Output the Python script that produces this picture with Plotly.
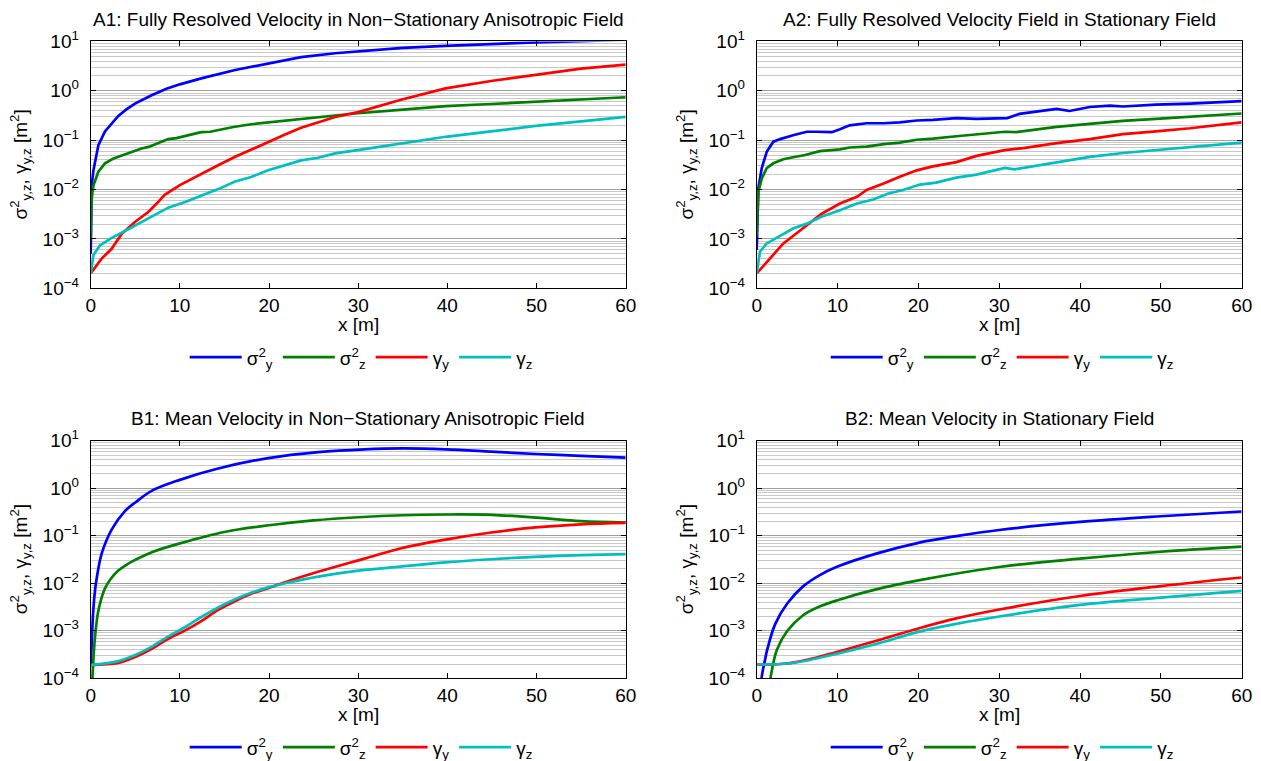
import plotly.graph_objects as go
from plotly.subplots import make_subplots

# ---------------- A1: fully resolved velocity, non-stationary anisotropic field
a1_sy_x = [0, 0.05, 0.11, 0.3, 0.49, 0.86, 1.6, 2.35, 3.1, 4.0, 4.96, 6.83, 8.5, 10, 12.4, 16.2, 19.9, 23.6, 27.4, 30, 35, 39.8, 45, 49.9, 55.9, 60]
a1_sy = [5.0e-4, 3.0e-3, 1.2e-2, 2.4e-2, 3.6e-2, 7.9e-2, 0.15, 0.22, 0.31, 0.42, 0.55, 0.81, 1.1, 1.35, 1.78, 2.63, 3.55, 4.8, 5.75, 6.3, 7.4, 8.1, 8.9, 9.6, 10.2, 10.8]
a1_sz_x = [0, 0.08, 0.3, 0.86, 1.6, 2.5, 3.1, 4.2, 5.0, 5.7, 6.5, 7.2, 8.0, 8.7, 9.6, 10.6, 11.5, 12.4, 13.4, 14.3, 16, 18, 20, 21.8, 23.5, 25.5, 29.6, 34.7, 39.8, 44.9, 49.9, 55, 60]
a1_sz = [1.0e-3, 6.0e-3, 1.2e-2, 2.3e-2, 3.4e-2, 4.2e-2, 4.6e-2, 5.4e-2, 6.0e-2, 6.8e-2, 7.3e-2, 8.1e-2, 9.2e-2, 0.105, 0.11, 0.12, 0.13, 0.145, 0.148, 0.16, 0.185, 0.21, 0.228, 0.245, 0.265, 0.295, 0.347, 0.41, 0.49, 0.54, 0.60, 0.67, 0.74]
a1_gy_x = [0, 1.23, 2.35, 3.47, 4.96, 6.46, 7.4, 8.3, 10, 12.4, 14.3, 16.2, 18, 19.9, 21.8, 23.6, 25.5, 27.4, 30, 34.7, 39.8, 44.9, 49.9, 55, 60]
a1_gy = [2.0e-4, 4.0e-4, 6.3e-4, 1.26e-3, 2.2e-3, 3.5e-3, 5.2e-3, 7.8e-3, 1.23e-2, 2.1e-2, 3.1e-2, 4.6e-2, 6.5e-2, 9.3e-2, 0.13, 0.178, 0.23, 0.295, 0.37, 0.65, 1.12, 1.58, 2.1, 2.8, 3.4]
a1_gz_x = [0, 0.3, 1.04, 2.35, 3.84, 5.7, 7.2, 8.7, 10.6, 12.4, 14.3, 16.2, 18, 19.9, 21.8, 23.6, 25.5, 27.4, 30.7, 34.7, 39.8, 44.9, 49.9, 55, 60]
a1_gz = [2.0e-4, 4.7e-4, 7.4e-4, 1.05e-3, 1.45e-3, 2.2e-3, 3.0e-3, 4.3e-3, 5.6e-3, 7.4e-3, 1.02e-2, 1.45e-2, 1.8e-2, 2.45e-2, 3.1e-2, 3.9e-2, 4.4e-2, 5.4e-2, 6.6e-2, 8.5e-2, 0.117, 0.15, 0.195, 0.24, 0.295]

# ---------------- A2: fully resolved velocity, stationary field
a2_sy_x = [0, 0.2, 0.62, 1.24, 2.06, 2.9, 4.5, 6.2, 7.4, 9.3, 10.3, 11.5, 13.6, 15.7, 17.7, 19.8, 21.8, 24.7, 27.2, 29.9, 31.0, 32.5, 37.1, 38.7, 41.2, 43.7, 45.3, 49.4, 53.6, 60]
a2_sy = [6.0e-4, 1.05e-2, 2.7e-2, 5.8e-2, 9.3e-2, 0.105, 0.126, 0.148, 0.148, 0.145, 0.166, 0.20, 0.22, 0.22, 0.23, 0.25, 0.257, 0.28, 0.27, 0.28, 0.28, 0.34, 0.43, 0.39, 0.47, 0.50, 0.48, 0.525, 0.55, 0.62]
a2_sz_x = [0, 0.2, 0.62, 1.24, 2.06, 3.3, 4.5, 6, 7.8, 10.3, 11.5, 13.6, 15.7, 17.7, 19.8, 21.8, 24.7, 27.2, 30.7, 32.1, 37.1, 41.2, 45.3, 49.4, 53.6, 60]
a2_sz = [1.2e-3, 8.9e-3, 1.66e-2, 2.7e-2, 3.4e-2, 4.1e-2, 4.5e-2, 5.0e-2, 6.0e-2, 6.5e-2, 7.1e-2, 7.4e-2, 8.3e-2, 8.9e-2, 0.102, 0.107, 0.12, 0.132, 0.148, 0.145, 0.186, 0.214, 0.245, 0.27, 0.295, 0.347]
a2_gy_x = [0, 1.24, 3.3, 4.9, 6.4, 8, 10.3, 12.4, 13.6, 15.7, 17.7, 19.8, 21.8, 24.7, 27.2, 30.7, 33, 37.1, 41.2, 45.3, 49.4, 53.6, 60]
a2_gy = [2.0e-4, 3.4e-4, 8.1e-4, 1.29e-3, 2.04e-3, 3.2e-3, 5.2e-3, 7.1e-3, 9.8e-3, 1.32e-2, 1.82e-2, 2.45e-2, 2.95e-2, 3.6e-2, 4.8e-2, 6.3e-2, 6.9e-2, 8.7e-2, 0.105, 0.132, 0.151, 0.174, 0.23]
a2_gz_x = [0, 0.4, 1.24, 2.9, 4.5, 6.2, 8, 10.3, 12.4, 14.4, 16.3, 18.1, 20.2, 22.2, 24.7, 27.2, 29.9, 30.7, 31.9, 37.1, 41.2, 45.3, 49.4, 53.6, 60]
a2_gz = [2.0e-4, 5.5e-4, 8.1e-4, 1.17e-3, 1.62e-3, 2.04e-3, 2.8e-3, 3.8e-3, 5.2e-3, 6.3e-3, 8.3e-3, 9.8e-3, 1.26e-2, 1.38e-2, 1.74e-2, 2.0e-2, 2.57e-2, 2.75e-2, 2.57e-2, 3.6e-2, 4.6e-2, 5.5e-2, 6.3e-2, 7.1e-2, 8.9e-2]

# ---------------- B1: mean velocity, non-stationary anisotropic field
b1_sy_x = [0, 0.1, 0.3, 0.5, 0.67, 1.23, 2.35, 3.84, 5, 6.83, 10, 14.3, 19.9, 25.5, 30.7, 35, 39.8, 44.9, 49.9, 55, 60]
b1_sy = [1.9e-4, 5e-4, 2.9e-3, 7.5e-3, 1.26e-2, 4.2e-2, 0.135, 0.33, 0.5, 0.88, 1.5, 2.6, 4.3, 5.75, 6.6, 6.9, 6.6, 5.9, 5.25, 4.8, 4.4]
b1_sz_x = [0.15, 0.3, 0.5, 0.8, 1.2, 1.6, 2.2, 3.1, 4, 5, 7, 10, 15, 20, 25, 30, 35, 40, 45, 50, 55, 60]
b1_sz = [6e-5, 2.5e-4, 8e-4, 2.3e-3, 4.8e-3, 7.8e-3, 1.2e-2, 1.85e-2, 2.45e-2, 3.1e-2, 4.6e-2, 6.9e-2, 0.12, 0.166, 0.21, 0.245, 0.27, 0.28, 0.275, 0.24, 0.204, 0.19]
b1_gy_x = [0, 3.1, 5, 6.8, 8.7, 10.6, 12.4, 14.3, 16.2, 18, 19.9, 21.8, 25.5, 30.7, 34.7, 39.8, 44.9, 49.9, 55, 60]
b1_gy = [1.9e-4, 2.1e-4, 2.8e-4, 4.1e-4, 6.8e-4, 1.02e-3, 1.6e-3, 2.75e-3, 4.2e-3, 6.0e-3, 7.9e-3, 1.05e-2, 1.74e-2, 3.3e-2, 5.4e-2, 8.3e-2, 0.117, 0.15, 0.174, 0.186]
b1_gz_x = [0, 3.1, 5, 6.8, 8.7, 10.6, 12.4, 14.3, 16.2, 18, 19.9, 21.8, 25.5, 29.6, 34.7, 39.8, 44.9, 49.9, 55, 60]
b1_gz = [1.9e-4, 2.3e-4, 3.1e-4, 4.6e-4, 7.6e-4, 1.2e-3, 1.95e-3, 3.1e-3, 4.6e-3, 6.3e-3, 8.2e-3, 1.0e-2, 1.38e-2, 1.8e-2, 2.24e-2, 2.75e-2, 3.2e-2, 3.6e-2, 3.9e-2, 4.1e-2]

# ---------------- B2: mean velocity, stationary field
b2_sy_x = [0.4, 0.6, 1.0, 1.3, 2.3, 3.8, 5.7, 7.7, 10, 15, 20, 24.7, 30, 40, 50, 60]
b2_sy = [2e-5, 1.0e-4, 2.3e-4, 4.0e-4, 1.4e-3, 3.8e-3, 8.5e-3, 1.45e-2, 2.24e-2, 4.3e-2, 7.1e-2, 9.8e-2, 0.132, 0.195, 0.257, 0.324]
b2_sz_x = [1.3, 1.7, 2.5, 3.8, 5.7, 7.7, 10, 15, 20, 30, 40, 50, 60]
b2_sz = [3e-5, 1.0e-4, 4.0e-4, 1.0e-3, 2.1e-3, 3.2e-3, 4.4e-3, 7.6e-3, 1.15e-2, 2.2e-2, 3.3e-2, 4.6e-2, 5.9e-2]
b2_gy_x = [0, 3, 5.2, 10, 15, 20, 24.7, 30, 40, 50, 60]
b2_gy = [1.95e-4, 2.0e-4, 2.25e-4, 3.6e-4, 6.3e-4, 1.12e-3, 1.82e-3, 2.8e-3, 5.4e-3, 8.7e-3, 1.32e-2]
b2_gz_x = [0, 3, 5.2, 10, 15, 20, 24.7, 30, 40, 50, 60]
b2_gz = [1.95e-4, 2.0e-4, 2.2e-4, 3.3e-4, 5.4e-4, 9.5e-4, 1.4e-3, 2.0e-3, 3.5e-3, 5.0e-3, 6.9e-3]

titles = [
    "A1: Fully Resolved Velocity in Non\u2212Stationary Anisotropic Field",
    "A2: Fully Resolved Velocity Field in Stationary Field",
    "B1: Mean Velocity in Non\u2212Stationary Anisotropic Field",
    "B2: Mean Velocity in Stationary Field",
]
series_names = ["\u03c3<sup>2</sup><sub>y</sub>", "\u03c3<sup>2</sup><sub>z</sub>",
                "\u03b3<sub>y</sub>", "\u03b3<sub>z</sub>"]
series_colors = ["#0000ff", "#008000", "#ff0000", "#00bfbf"]
y_tick_vals = [1e-4, 1e-3, 1e-2, 1e-1, 1e0, 1e1]
y_tick_text = ["10<sup>\u22124</sup>", "10<sup>\u22123</sup>", "10<sup>\u22122</sup>",
               "10<sup>\u22121</sup>", "10<sup>0</sup>", "10<sup>1</sup>"]
x_tick_vals = [0, 10, 20, 30, 40, 50, 60]

panels = [
    [(a1_sy_x, a1_sy), (a1_sz_x, a1_sz), (a1_gy_x, a1_gy), (a1_gz_x, a1_gz)],
    [(a2_sy_x, a2_sy), (a2_sz_x, a2_sz), (a2_gy_x, a2_gy), (a2_gz_x, a2_gz)],
    [(b1_sy_x, b1_sy), (b1_sz_x, b1_sz), (b1_gy_x, b1_gy), (b1_gz_x, b1_gz)],
    [(b2_sy_x, b2_sy), (b2_sz_x, b2_sz), (b2_gy_x, b2_gy), (b2_gz_x, b2_gz)],
]

W, H = 1261, 761
FONT = "Liberation Sans, Arial, Helvetica, sans-serif"

# plot-area boxes in pixels: (left, right, top, bottom)
boxes = [
    (90.7, 625.7, 41.4, 288.3),
    (756.7, 1241.7, 41.4, 288.3),
    (90.7, 625.7, 440.7, 678.3),
    (756.7, 1241.7, 440.7, 678.3),
]
smooth = [False, False, True, True]

fig = make_subplots(rows=2, cols=2)
legend_ids = ["legend", "legend2", "legend3", "legend4"]

minor_vals = [m * 10.0 ** e for e in range(-4, 1) for m in range(2, 10)]

annotations = []
for p, (box, data) in enumerate(zip(boxes, panels)):
    row, col = p // 2 + 1, p % 2 + 1
    for s, (xs, ys) in enumerate(data):
        fig.add_trace(
            go.Scatter(
                x=xs, y=ys, mode="lines", name=series_names[s],
                line=dict(color=series_colors[s], width=2.7,
                          shape="spline" if smooth[p] else "linear",
                          smoothing=1.0),
                legend=legend_ids[p], showlegend=True,
            ),
            row=row, col=col,
        )
    L, R, T, B = box
    xdom = [L / W, R / W]
    ydom = [1 - B / H, 1 - T / H]
    fig.update_xaxes(
        domain=xdom, range=[0, 60], tickmode="array", tickvals=x_tick_vals,
        ticks="inside", ticklen=5, tickcolor="black", showline=True,
        linecolor="black", linewidth=1, mirror="ticks", showgrid=False,
        zeroline=False, tickfont=dict(size=19, color="black", family=FONT),
        automargin=False, row=row, col=col,
    )
    fig.update_yaxes(
        domain=ydom, type="log", range=[-4, 1], tickmode="array",
        tickvals=y_tick_vals, ticktext=y_tick_text,
        ticks="inside", ticklen=5, tickcolor="black", showline=True,
        linecolor="black", linewidth=1, mirror="ticks",
        showgrid=True, gridcolor="#a0a0a0", gridwidth=1,
        minor=dict(tickmode="array", tickvals=minor_vals, showgrid=True,
                   gridcolor="#c8c8c8", gridwidth=1, ticks=""),
        zeroline=False, tickfont=dict(size=19, color="black", family=FONT),
        ticklabelstandoff=7, automargin=False, row=row, col=col,
    )
    cx = (L + R) / 2
    # panel title
    annotations.append(dict(
        text=titles[p], x=cx / W, y=1 - (T - 22) / H, xref="paper", yref="paper",
        xanchor="center", yanchor="middle", showarrow=False,
        font=dict(size=19, color="black", family=FONT)))
    # x-axis title
    annotations.append(dict(
        text="x [m]", x=cx / W, y=1 - (B + 36) / H, xref="paper", yref="paper",
        xanchor="center", yanchor="middle", showarrow=False,
        font=dict(size=19, color="black", family=FONT)))
    # y-axis title
    annotations.append(dict(
        text="\u03c3<sup>2</sup><sub>y,z</sub>, \u03b3<sub>y,z</sub> [m<sup>2</sup>]",
        x=(L - 70) / W, y=1 - ((T + B) / 2) / H, xref="paper", yref="paper",
        xanchor="center", yanchor="middle", textangle=-90, showarrow=False,
        font=dict(size=19, color="black", family=FONT)))

legend_style = dict(orientation="h", xanchor="center", yanchor="middle",
                    bgcolor="rgba(0,0,0,0)", itemwidth=52,
                    font=dict(size=19, color="black", family=FONT))
layout_legends = {}
for p, box in enumerate(boxes):
    L, R, T, B = box
    layout_legends[legend_ids[p]] = dict(
        legend_style, x=((L + R) / 2 + 3) / W, y=1 - (B + 69) / H)

fig.update_layout(
    width=W, height=H, margin=dict(l=0, r=0, t=0, b=0, autoexpand=False),
    paper_bgcolor="white", plot_bgcolor="white",
    font=dict(family=FONT, color="black"),
    annotations=annotations, **layout_legends,
)

fig.write_html("out.html")
